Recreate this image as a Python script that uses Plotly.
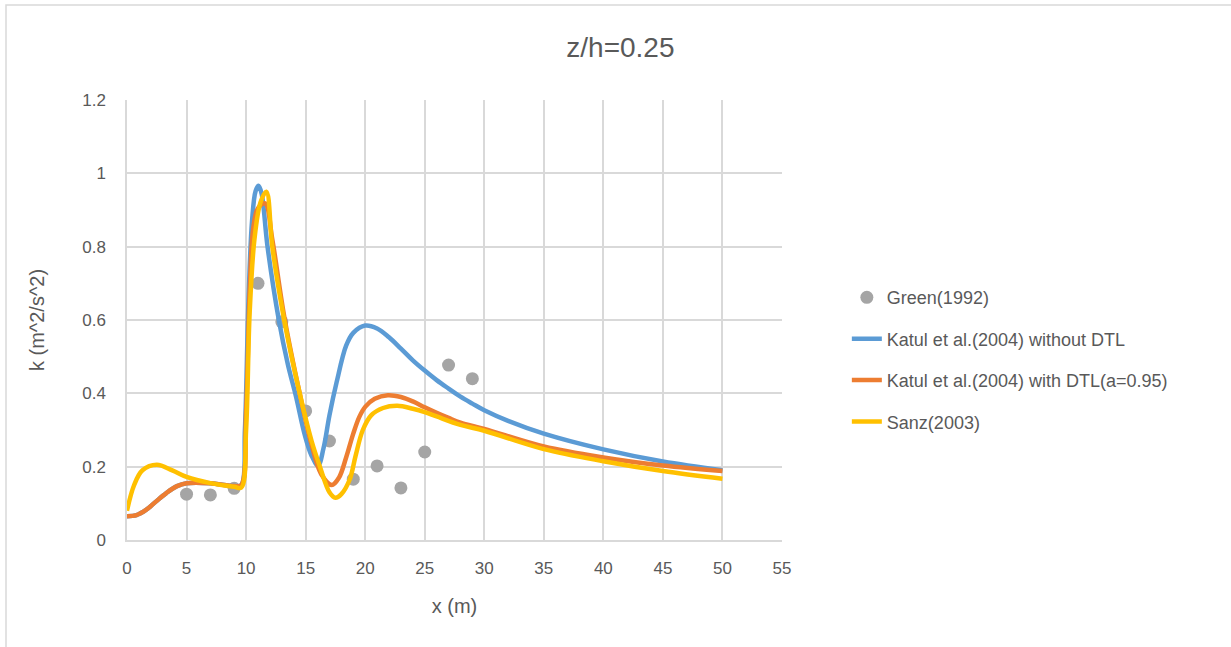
import plotly.graph_objects as go

# Measured turbulent kinetic energy (Green 1992)
green_x = [5, 7, 9, 11, 13, 15, 17, 19, 21, 23, 25, 27, 29]
green_k = [0.125, 0.123, 0.141, 0.70, 0.595, 0.352, 0.27, 0.166, 0.202, 0.142, 0.24, 0.477, 0.44]

# Katul et al. (2004) without DTL
katul_x = [0, 0.8, 1.6, 2.4, 3.3, 4.2, 5, 7, 9, 9.6, 9.9, 10.2, 10.5, 10.8, 11.05, 11.3, 11.8,
           12.75, 13.5, 14.2, 14.9, 15.5, 16.05, 16.5, 17.0, 17.6, 18.4, 19.0,
           20, 21, 22, 23, 24, 25, 26, 27, 28, 29, 30, 32, 35, 40, 45, 50]
katul_k = [0.065, 0.068, 0.082, 0.104, 0.128, 0.147, 0.155, 0.155, 0.147, 0.15, 0.3, 0.65, 0.87,
           0.952, 0.966, 0.945, 0.80,
           0.60, 0.48, 0.39, 0.29, 0.23, 0.203, 0.25, 0.34, 0.43, 0.53, 0.565,
           0.585, 0.577, 0.553, 0.522, 0.49, 0.462, 0.436, 0.413, 0.391, 0.372, 0.354, 0.325,
           0.29, 0.247, 0.214, 0.19]

# Katul et al. (2004) with DTL (a=0.95)
dtl_x = [0, 0.8, 1.6, 2.4, 3.3, 4.2, 5, 7, 9, 9.6, 10.0, 10.3, 10.6, 11.0, 11.6, 12.2, 13.2,
         14.5, 15.5, 16.3, 17.2, 17.8, 18.4, 19.0, 19.5, 20.0, 20.8, 21.9, 23, 24, 25,
         26, 27, 28, 30, 35, 40, 45, 50]
dtl_k = [0.065, 0.068, 0.082, 0.104, 0.128, 0.147, 0.155, 0.155, 0.147, 0.15, 0.35, 0.68, 0.85,
         0.905, 0.918, 0.82, 0.61,
         0.40, 0.26, 0.18, 0.15, 0.17, 0.225, 0.29, 0.335, 0.363, 0.385, 0.395, 0.39, 0.378, 0.362,
         0.347, 0.333, 0.32, 0.303, 0.255, 0.225, 0.203, 0.188]

# Sanz (2003)
sanz_x = [0, 0.6, 1.3, 2.5, 3.8, 5, 7, 9, 9.6, 10.0, 10.3, 10.7, 11.2, 11.7, 12.2,
          13.2, 14.5, 15.5, 16.2, 17.0, 17.5, 18.0, 18.7, 19.2, 19.8, 20.5, 21.5, 22.7,
          24, 25, 26, 28, 30, 35, 40, 45, 50]
sanz_k = [0.08, 0.15, 0.19, 0.205, 0.19, 0.172, 0.155, 0.145, 0.143, 0.3, 0.62, 0.82, 0.92, 0.95, 0.80,
          0.60, 0.40, 0.27, 0.2, 0.13, 0.115, 0.125, 0.165, 0.23, 0.3, 0.34, 0.36, 0.366,
          0.358, 0.349, 0.337, 0.314, 0.298, 0.248, 0.215, 0.188, 0.167]

FONT = "Liberation Sans"
TXT = "#595959"
GRID = "#d9d9d9"
SMOOTH = 1.0

fig = go.Figure()
fig.add_trace(go.Scatter(x=green_x, y=green_k, mode="markers", name="Green(1992)",
                         marker=dict(color="#a5a5a5", size=13), legendgroup="a"))
fig.add_trace(go.Scatter(x=katul_x, y=katul_k, mode="lines", name="Katul et al.(2004) without DTL",
                         line=dict(color="#5b9bd5", width=4.5, shape="spline", smoothing=SMOOTH),
                         legendgroup="b"))
fig.add_trace(go.Scatter(x=dtl_x, y=dtl_k, mode="lines", name="Katul et al.(2004) with DTL(a=0.95)",
                         line=dict(color="#ed7d31", width=4.5, shape="spline", smoothing=SMOOTH),
                         legendgroup="c"))
fig.add_trace(go.Scatter(x=sanz_x, y=sanz_k, mode="lines", name="Sanz(2003)",
                         line=dict(color="#ffc000", width=4.5, shape="spline", smoothing=SMOOTH),
                         legendgroup="d"))

fig.update_layout(
    width=1231, height=647,
    margin=dict(l=127, r=449, t=100, b=107),
    paper_bgcolor="white", plot_bgcolor="white",
    font=dict(family=FONT, color=TXT, size=17),
    title=dict(text="z/h=0.25", x=0.504, xanchor="center", y=0.927, yanchor="middle",
               font=dict(size=28, color=TXT, family=FONT)),
    showlegend=True,
    legend=dict(x=1.099, xanchor="left", y=0.593, yanchor="top", traceorder="grouped",
                tracegroupgap=15, font=dict(size=18, color=TXT, family=FONT),
                bgcolor="rgba(0,0,0,0)"),
    xaxis=dict(range=[0, 55], dtick=5, tick0=0, showgrid=True, gridcolor=GRID, gridwidth=1.5,
               showline=True, linecolor=GRID, linewidth=1.5, zeroline=False, ticks="",
               ticklabelstandoff=12,
               title=dict(text="x (m)", standoff=22, font=dict(size=20)),
               tickfont=dict(size=17)),
    yaxis=dict(range=[0, 1.2], dtick=0.2, tick0=0, showgrid=True, gridcolor=GRID, gridwidth=1.5,
               showline=True, linecolor=GRID, linewidth=1.5, zeroline=False, ticks="",
               tickformat="~g", ticklabelstandoff=16,
               title=dict(text="k (m^2/s^2)", standoff=32, font=dict(size=20)),
               tickfont=dict(size=17)),
    shapes=[dict(type="rect", xref="paper", yref="paper",
                 x0=(6 - 127) / 655, x1=1.8, y0=-0.4, y1=(540 - 5) / 440,
                 line=dict(color=GRID, width=1.5), fillcolor="rgba(0,0,0,0)", layer="below")],
)

fig.write_html("out.html")
